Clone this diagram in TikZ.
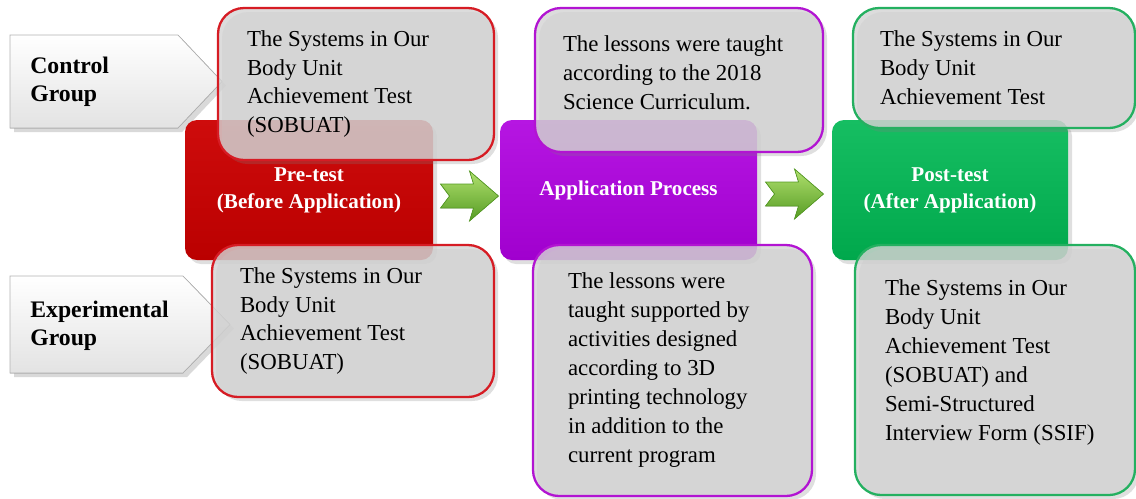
\documentclass[tikz,border=0pt]{standalone}
\usepackage{fontspec}
\setmainfont{Liberation Serif}
\usetikzlibrary{calc,shadows}

\newlength{\pixel}
\setlength{\pixel}{0.02cm}

\definecolor{prered}{RGB}{186,0,0}
\definecolor{prered2}{RGB}{206,12,12}
\definecolor{appviolet}{RGB}{160,0,206}
\definecolor{appviolet2}{RGB}{182,22,226}
\definecolor{postgreen}{RGB}{0,168,76}
\definecolor{postgreen2}{RGB}{22,190,98}
\definecolor{boxgray}{RGB}{212,212,212}
\definecolor{redline}{RGB}{214,28,36}
\definecolor{violetline}{RGB}{178,20,210}
\definecolor{greenline}{RGB}{36,176,96}
\definecolor{arrowlight}{RGB}{176,224,110}
\definecolor{arrowdark}{RGB}{86,156,36}

\tikzset{
  tagshape/.style={draw=gray!60, top color=white, bottom color=gray!22,
    drop shadow={opacity=0.3}},
  tagtext/.style={anchor=west, align=left, inner sep=0pt,
    font=\bfseries\fontsize{13.5}{15.9}\selectfont},
  stage/.style={rounded corners=12\pixel, text=white, align=center,
    font=\bfseries\fontsize{12}{15.3}\selectfont, drop shadow={opacity=0.25}},
  redstage/.style={stage, top color=prered2, bottom color=prered},
  violetstage/.style={stage, top color=appviolet2, bottom color=appviolet},
  greenstage/.style={stage, top color=postgreen2, bottom color=postgreen},
  infobox/.style={rounded corners=26\pixel, fill=boxgray, fill opacity=0.82,
    text opacity=1, line width=1.3pt, align=flush left, inner ysep=0pt,
    font=\fontsize{13}{16.5}\selectfont, drop shadow={opacity=0.25}},
  nextarrow/.pic={
    \filldraw[draw=arrowdark, top color=arrowlight, bottom color=arrowdark]
      (-29,-12) -- (4,-12) -- (0,-25) -- (29,0) -- (0,25) -- (4,12)
      -- (-29,12) -- (-20,0) -- cycle;
  }
}

\begin{document}
\begin{tikzpicture}[x=0.02cm, y=-0.02cm]
    \useasboundingbox (0,0) rectangle (1136,498);

    % groups
    \filldraw[tagshape] (10,35) -- (178,35) -- (222,81.5) -- (178,128) -- (10,128) -- cycle;
    \node[tagtext] (ctrl) at (30,82) {Control\\Group};
    \filldraw[tagshape] (10,276) -- (183,276) -- (230,324.5) -- (183,373) -- (10,373) -- cycle;
    \node[tagtext] (expt) at (30,326) {Experimental\\Group};

    % stages
    \node[redstage, minimum width=248\pixel, minimum height=140\pixel] (pre) at (309,190)
        {Pre-test\\(Before Application)};
    \node[violetstage, minimum width=257\pixel, minimum height=140\pixel] (app) at (628.5,190)
        {Application Process};
    \node[greenstage, minimum width=236\pixel, minimum height=140\pixel] (post) at (950,190)
        {Post-test\\(After Application)};

    \pic at ($(pre.east)!0.5!(app.west)+(3,6)$) {nextarrow};
    \pic at ($(app.east)!0.5!(post.west)+(0,4)$) {nextarrow};

    % boxes
    \node[infobox, draw=redline, text width=218\pixel, inner xsep=29\pixel, minimum height=152\pixel]
        (pretop) at (356,84)
        {The Systems in Our\\Body Unit\\Achievement Test\\(SOBUAT)};
    \node[infobox, draw=redline, text width=226\pixel, inner xsep=28\pixel, minimum height=152\pixel]
        (prebot) at (353,321)
        {The Systems in Our\\Body Unit\\Achievement Test\\(SOBUAT)};
    \node[infobox, draw=violetline, text width=232\pixel, inner xsep=28\pixel, minimum height=144\pixel]
        (apptop) at (679,80)
        {The lessons were taught\\according to the 2018\\Science Curriculum.\rule[-15\pixel]{0pt}{15\pixel}};
    \node[infobox, draw=violetline, text width=209\pixel, inner xsep=35\pixel, minimum height=251\pixel]
        (appbot) at (672.5,370.5)
        {The lessons were\\taught supported by\\activities designed\\according to 3D\\printing technology\\in addition to the\\current program};
    \node[infobox, draw=greenline, text width=228\pixel, inner xsep=27\pixel, minimum height=120\pixel]
        (posttop) at (994,68)
        {The Systems in Our\\Body Unit\\Achievement Test};
    \node[infobox, draw=greenline, text width=220\pixel, inner xsep=30\pixel, minimum height=250\pixel]
        (postbot) at (995,370)
        {The Systems in Our\\Body Unit\\Achievement Test\\(SOBUAT) and\\Semi-Structured\\Interview Form (SSIF)\rule[-20\pixel]{0pt}{20\pixel}};

\end{tikzpicture}
\end{document}
